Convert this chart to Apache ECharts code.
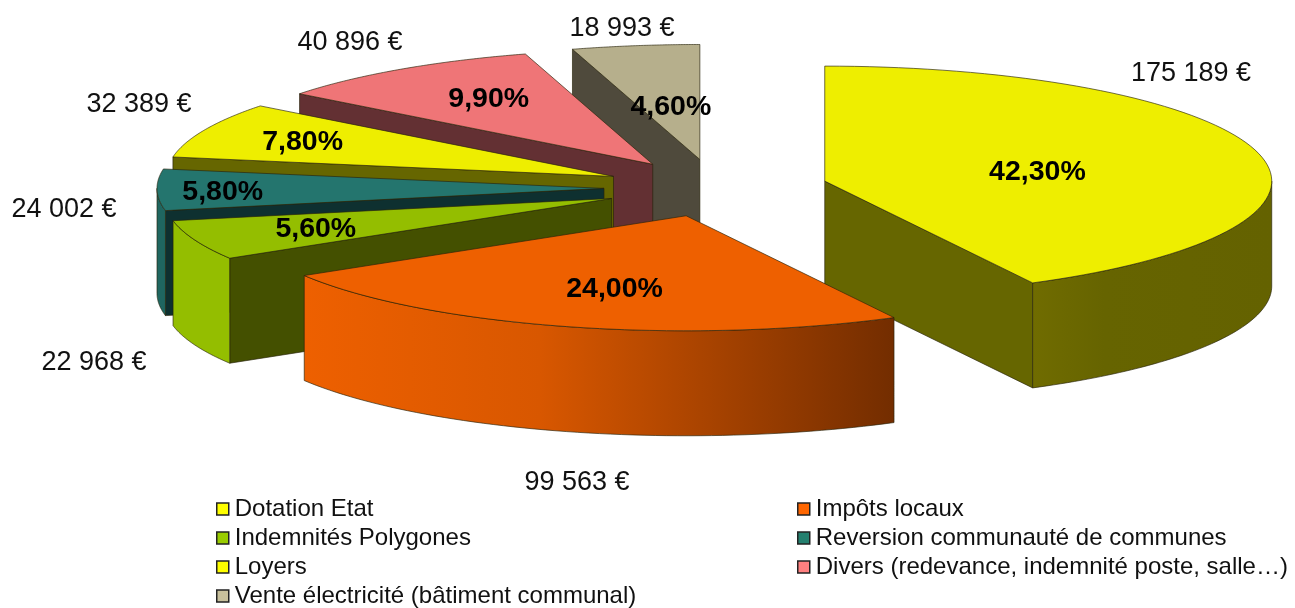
<!DOCTYPE html>
<html>
<head>
<meta charset="utf-8">
<style>
    html, body { margin: 0; padding: 0; background: #fff; }
    #chart { width: 1295px; height: 608px; }
</style>
<script src="https://cdn.jsdelivr.net/npm/echarts@6/dist/echarts.min.js"></script>
</head>
<body>
<div id="chart"></div>
<script>
'use strict';

const categories = ['Dotation Etat', 'Impôts locaux', 'Indemnités Polygones', 'Reversion communauté de communes',
    'Loyers', 'Divers (redevance, indemnité poste, salle…)', 'Vente électricité (bâtiment communal)'];
const euros = [175189, 99563, 22968, 24002, 32389, 40896, 18993];
const percents = [42.3, 24.0, 5.6, 5.8, 7.8, 9.9, 4.6];

// colours, same order as categories
const legendColors = ['#ffff00', '#ff6600', '#99cc00', '#24806f', '#ffff00', '#ff8080', '#c8c09c'];
const topColors = ['#eeee00', '#ee6000', '#94be00', '#24756e', '#eeee00', '#ef7577', '#b6af8c'];
const sideColors = ['#666600', '#7a2e00', '#445000', '#0e3030', '#666600', '#633033', '#4f4a3c'];
const wallColors = ['#666400', '#ee6000', '#94be00', '#1f6660', '#666600', '#633033', '#4f4a3c'];
// back to front
const drawOrder = [6, 5, 4, 3, 2, 0, 1];

// pie geometry in pixels
const CX = 716, CY = 188, RX = 447, RY = 115, DEPTH = 105, EXPLODE = 112;
// percent label: fraction of the radius along the middle of the slice, then a small vertical nudge
const pctRadius = [0.49, 0.6, 0.71, 0.853, 0.76, 0.65, 0.45];
const pctNudge = [2, 4, -2, 0, -2, -6, -4];
// euro label centres
const euroPos = [[1191, 74], [577, 483], [94, 363], [64, 210], [139, 105], [350, 43], [622, 29]];

const FONT = '"Liberation Sans", Arial, sans-serif';
const EDGE = 'rgba(40,35,10,0.65)';

function angles(i) {
    let before = 0;
    for (let k = 0; k < i; k++) {
        before += percents[k];
    }
    return [before * 3.6, (before + percents[i]) * 3.6];
}

function apex(i) {
    let a = angles(i),
        mid = (a[0] + a[1]) / 2 * Math.PI / 180;
    return [CX + EXPLODE * Math.sin(mid), CY - EXPLODE * RY / RX * Math.cos(mid)];
}

function rim(c, deg, dy) {
    let t = deg * Math.PI / 180;
    return [c[0] + RX * Math.sin(t), c[1] - RY * Math.cos(t) + (dy || 0)];
}

function poly(points, fill, stroke) {
    return {
        type: 'polygon',
        shape: {points: points},
        style: {fill: fill, stroke: stroke, lineWidth: 1}
    };
}

function radialFace(c, deg, fill, stroke) {
    let p = rim(c, deg);
    return poly([c, p, [p[0], p[1] + DEPTH], [c[0], c[1] + DEPTH]], fill, stroke);
}

function wallFill(i) {
    if (i === 1) {
        return new echarts.graphic.LinearGradient(0, 0, 1, 0, [
            {offset: 0, color: '#ee6000'},
            {offset: 0.4, color: '#d85700'},
            {offset: 1, color: '#732d00'}
        ]);
    }
    if (i === 0) {
        return new echarts.graphic.LinearGradient(0, 0, 1, 0, [
            {offset: 0, color: '#706c00'},
            {offset: 0.3, color: '#666400'},
            {offset: 1, color: '#646200'}
        ]);
    }
    return wallColors[i];
}

function sliceItem(i) {
    let a = angles(i),
        c = apex(i),
        children = [];

    // radial cut faces, the one facing the viewer is the start edge on the left side
    // and the end edge on the right side
    let sinStart = Math.sin(a[0] * Math.PI / 180),
        sinEnd = Math.sin(a[1] * Math.PI / 180);
    if (sinStart < -0.001) {
        children.push(radialFace(c, a[0], sideColors[i], EDGE));
    }
    if (sinEnd > 0.001) {
        children.push(radialFace(c, a[1], sideColors[i], EDGE));
    }

    // outer wall, only the front part of the rim
    let from = Math.max(a[0], 90),
        to = Math.min(a[1], 270);
    if (to > from) {
        let upper = [], lower = [];
        for (let d = from; d <= to + 0.01; d += (to - from) / 60) {
            upper.push(rim(c, d));
            lower.unshift(rim(c, d, DEPTH));
        }
        children.push(poly(upper.concat(lower), wallFill(i), EDGE));
    }

    // top face
    let top = [c];
    for (let d = a[0]; d <= a[1] + 0.01; d += (a[1] - a[0]) / 80) {
        top.push(rim(c, d));
    }
    children.push(poly(top, topColors[i], EDGE));

    return {type: 'group', children: children};
}

function labelItems() {
    let children = [];
    categories.forEach(function (name, i) {
        let a = angles(i),
            c = apex(i),
            mid = (a[0] + a[1]) / 2 * Math.PI / 180,
            r = pctRadius[i];
        children.push({
            type: 'text',
            x: c[0] + RX * r * Math.sin(mid),
            y: c[1] - RY * r * Math.cos(mid) + 3 + pctNudge[i],
            style: {
                text: percents[i].toFixed(2).replace('.', ',') + '%',
                font: 'bold 28.5px ' + FONT,
                fill: '#000',
                align: 'center',
                verticalAlign: 'middle'
            }
        });
        children.push({
            type: 'text',
            x: euroPos[i][0],
            y: euroPos[i][1],
            style: {
                text: String(euros[i]).replace(/(\d)(\d{3})$/, '$1 $2') + ' €',
                font: '27px ' + FONT,
                fill: '#111',
                align: 'center',
                verticalAlign: 'middle'
            }
        });
    });
    return {type: 'group', children: children};
}

function legendOf(names, left) {
    return {
        orient: 'vertical',
        left: left,
        top: 497,
        height: 150,
        icon: 'rect',
        itemWidth: 12,
        itemHeight: 12,
        itemGap: 5,
        selectedMode: false,
        padding: 0,
        data: names,
        itemStyle: {borderColor: '#222', borderWidth: 1.5},
        textStyle: {fontFamily: FONT, fontSize: 24, color: '#111', padding: [0, 0, 0, 1], lineHeight: 23}
    };
}

let series = [];
categories.forEach(function (name, i) {
    series.push({
        type: 'custom',
        name: name,
        coordinateSystem: 'none',
        silent: true,
        z: 2 + drawOrder.indexOf(i),
        itemStyle: {color: legendColors[i]},
        data: [euros[i]],
        renderItem: function () {
            return sliceItem(i);
        }
    });
});
series.push({
    type: 'custom',
    coordinateSystem: 'none',
    silent: true,
    z: 20,
    data: [0],
    renderItem: labelItems
});

let myChart = echarts.init(document.getElementById('chart'));
myChart.setOption({
    animation: false,
    backgroundColor: '#fff',
    legend: [
        legendOf([categories[0], categories[2], categories[4], categories[6]], 216),
        legendOf([categories[1], categories[3], categories[5]], 797)
    ],
    series: series
});
</script>
</body>
</html>
